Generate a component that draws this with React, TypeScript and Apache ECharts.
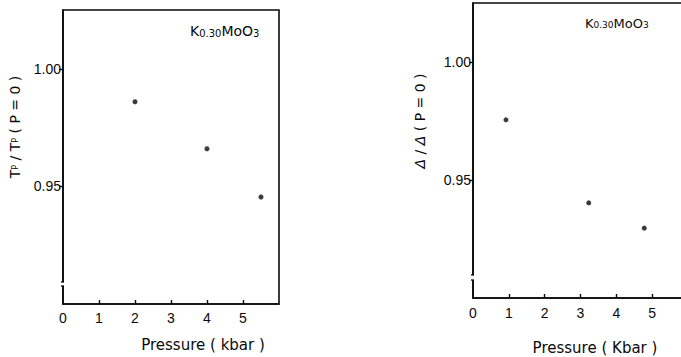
import React, { useEffect, useRef } from "react";
import * as echarts from "echarts";

// Left panel: Tp / Tp(P=0) vs pressure
const leftPressure = [2, 4, 5.5];
const leftRatio = [0.986, 0.966, 0.9455];
// Right panel: Δ / Δ(P=0) vs pressure
const rightPressure = [0.92, 3.23, 4.78];
const rightRatio = [0.9755, 0.9403, 0.9296];

const xTickLabels = [0, 1, 2, 3, 4, 5];
const xTickMarks = [1, 2, 3, 4, 5];
const yTickLabels = [0.95, 1.0];

const FONT = "Liberation Sans";
const FONT2 = "DejaVu Sans";
const INK = "#0a0a0a";

export default function App() {
  const ref = useRef<HTMLDivElement>(null);
  useEffect(() => {
    if (!ref.current) return;
    const chart = echarts.init(ref.current, undefined, { renderer: "svg" });
    const xAxisBase = (gridIndex: number, margin: number) => ({
      type: "value",
      gridIndex,
      min: 0,
      max: 6,
      interval: 1,
      axisLine: { show: true, lineStyle: { color: INK, width: 1.6 } },
      axisTick: { show: true, inside: true, length: 4, customValues: xTickMarks, lineStyle: { color: INK, width: 1.4 } },
      axisLabel: { show: true, customValues: xTickLabels, margin, fontFamily: FONT, fontSize: 14, color: INK },
      splitLine: { show: false },
    });
    const yAxisBase = (gridIndex: number) => ({
      type: "value",
      gridIndex,
      min: 0.9,
      max: 1.025,
      interval: 0.05,
      axisLine: { show: true, lineStyle: { color: INK, width: 1.6 } },
      axisTick: { show: true, inside: false, length: 4, customValues: yTickLabels, lineStyle: { color: INK, width: 1.4 } },
      axisLabel: {
        show: true,
        customValues: yTickLabels,
        margin: 2,
        fontFamily: FONT,
        fontSize: 14,
        color: INK,
        formatter: (v: number) => v.toFixed(2),
      },
      splitLine: { show: false },
    });
    const breakMark = (x: number, y1: number, y2: number) => [
      { type: "rect", shape: { x: x - 3, y: y1, width: 6, height: y2 - y1 }, style: { fill: "#fff" }, z: 100 },
      { type: "line", shape: { x1: x - 2, y1: y1, x2: x + 1, y2: y1 }, style: { stroke: INK, lineWidth: 1.3 }, z: 101 },
      { type: "line", shape: { x1: x - 2, y1: y2, x2: x + 1, y2: y2 }, style: { stroke: INK, lineWidth: 1.3 }, z: 101 },
    ];
    const compound = (x: number, y: number, big: number, small: number) => ({
      type: "text",
      x,
      y,
      style: {
        text: "{b|K}{s|0.30}{b|MoO}{s|3}",
        rich: {
          b: { fontFamily: FONT2, fontSize: big, fill: INK, verticalAlign: "bottom" },
          s: { fontFamily: FONT2, fontSize: small, fill: INK, verticalAlign: "bottom" },
        },
        verticalAlign: "middle",
      },
      z: 50,
    });
    chart.setOption({
      animation: false,
      backgroundColor: "#ffffff",
      grid: [
        { left: 63, top: 10, width: 216, height: 294, show: true, borderColor: INK, borderWidth: 1.6, backgroundColor: "transparent" },
        { left: 473, top: 3, width: 215, height: 295, show: true, borderColor: INK, borderWidth: 1.6, backgroundColor: "transparent" },
      ],
      xAxis: [xAxisBase(0, 7), xAxisBase(1, 8)],
      yAxis: [yAxisBase(0), yAxisBase(1)],
      series: [
        {
          type: "scatter",
          xAxisIndex: 0,
          yAxisIndex: 0,
          symbol: "circle",
          symbolSize: 5,
          itemStyle: { color: INK },
          data: leftPressure.map((p, i) => [p, leftRatio[i]]),
        },
        {
          type: "scatter",
          xAxisIndex: 1,
          yAxisIndex: 1,
          symbol: "circle",
          symbolSize: 5,
          itemStyle: { color: INK },
          data: rightPressure.map((p, i) => [p, rightRatio[i]]),
        },
      ],
      graphic: [
        ...breakMark(63, 282, 286),
        ...breakMark(473, 275, 280),
        compound(190, 31, 14, 10),
        compound(585, 23, 13, 9),
        {
          type: "text",
          x: 203,
          y: 345,
          style: { text: "Pressure ( kbar )", fontFamily: FONT2, fontSize: 15, fill: INK, align: "center", verticalAlign: "middle" },
        },
        {
          type: "text",
          x: 595,
          y: 348,
          style: { text: "Pressure ( Kbar )", fontFamily: FONT2, fontSize: 15, fill: INK, align: "center", verticalAlign: "middle" },
        },
        {
          type: "text",
          x: 15,
          y: 127,
          rotation: Math.PI / 2,
          style: {
            text: "{b|T}{s|P} / {b|T}{s|P} ( P = 0 )",
            rich: {
              b: { fontFamily: FONT2, fontSize: 14, fill: INK },
              s: { fontFamily: FONT2, fontSize: 8, fill: INK },
            },
            fontFamily: FONT2,
            fontSize: 14,
            fill: INK,
            align: "center",
            verticalAlign: "middle",
          },
        },
        {
          type: "text",
          x: 420,
          y: 121,
          rotation: Math.PI / 2,
          style: {
            text: "{i|Δ} / {i|Δ} ( P = 0 )",
            rich: {
              i: { fontFamily: FONT2, fontSize: 14, fontStyle: "italic", fill: INK },
            },
            fontFamily: FONT2,
            fontSize: 14,
            fill: INK,
            align: "center",
            verticalAlign: "middle",
          },
        },
      ],
    });
    return () => chart.dispose();
  }, []);
  return (
    <div style={{ position: "fixed", left: 0, top: 0, width: 681, height: 357, overflow: "hidden", background: "#fff" }}>
      <div ref={ref} style={{ width: 700, height: 357 }} />
    </div>
  );
}
